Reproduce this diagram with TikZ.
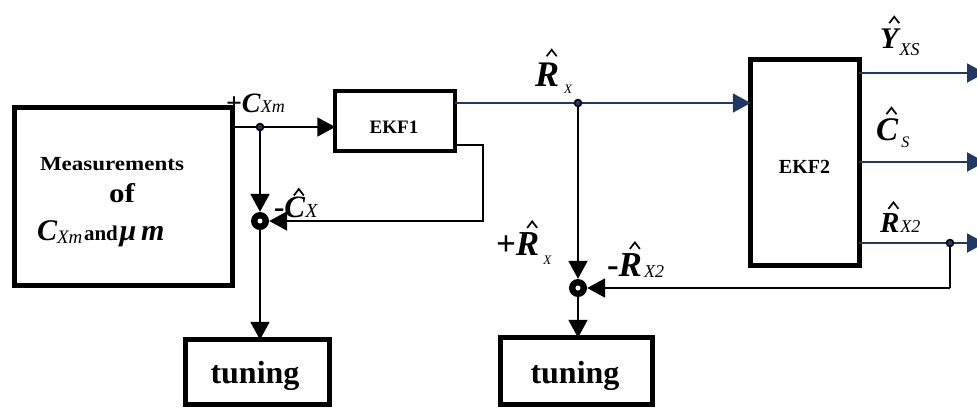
\documentclass[tikz,border=0pt]{standalone}
\usepackage{fontspec}
\setmainfont{Liberation Serif}
\usetikzlibrary{arrows.meta}
\definecolor{navy}{RGB}{31,56,100}
\newcommand\fs[1]{\fontsize{#1}{#1}\selectfont}
\newcommand\hatl[2][4pt]{\setbox0\hbox{#2}\rlap{\hbox to\wd0{\hss\kern0.26em\raisebox{\dimexpr0.66em+#1\relax}{\tikz[x=1pt,y=1pt,baseline=0pt]\draw[black,line width=1.7pt,line join=miter,line cap=butt] (-5,0) -- (0,6.5) -- (5,0);}\hss}}\box0}
\begin{document}
\begin{tikzpicture}[x=1pt,y=-1pt,
  blk/.style={draw, line width=4.5pt, inner sep=0pt, outer sep=0pt, font=\bfseries},
  conn/.style={line width=2pt, black},
  bconn/.style={line width=2pt, navy},
  tip/.style={-{Triangle[length=18pt,width=19pt]}},
  lbl/.style={inner sep=0pt, outer sep=0pt, anchor=base west},
  jdot/.style={circle, draw=black, fill=navy, line width=1.5pt, inner sep=0pt, minimum size=7pt},
  sum/.style={circle, fill=black, inner sep=0pt, minimum size=18pt}]
\useasboundingbox (0,0) rectangle (977,408);
\clip (0,0) rectangle (977,408);

% blocks
\node[blk, minimum width=218pt, minimum height=178pt] (meas) at (123.5,196.5) {};
\node[blk, line width=4pt, minimum width=119.5pt, minimum height=60pt] (ekf1) at (395,120.5) {};
\node[blk, line width=5pt, minimum width=108.5pt, minimum height=206pt] (ekf2) at (805,162.5) {};
\node[blk, line width=5pt, minimum width=144pt, minimum height=64.5pt] (tun1) at (257.5,372) {};
\node[blk, line width=5pt, minimum width=152pt, minimum height=66.5pt] (tun2) at (576.5,371) {};

% block texts
\node[lbl, anchor=base] (tm1) at (112,170) {\scalebox{1.15}[1]{\fs{20}\bfseries Measurements}};
\node[lbl, anchor=base] (tm2) at (122,202) {\scalebox{1.15}[1]{\fs{27}\bfseries of}};
\node[lbl] (tm3) at (37,240) {{\fs{30}\bfseries\itshape C}\raisebox{-3pt}{\fs{19}\itshape Xm}\,{\fs{21}\bfseries and}\,{\fs{30}\bfseries\itshape μ\,m}};
\node[lbl, anchor=base] (te1) at (394,133) {\fs{19}\bfseries EKF1};
\node[lbl, anchor=base] (te2) at (804.5,173) {\fs{20}\bfseries EKF2};
\node[lbl, anchor=base] (tt1) at (255,383) {\fs{32}\bfseries tuning};
\node[lbl, anchor=base] (tt2) at (575,383) {\fs{32}\bfseries tuning};

% junctions and summing points
\coordinate (j1) at (260,127);
\coordinate (j2) at (578,103);
\coordinate (j3) at (950,243);
\node[sum] (s1) at (260,221) {};
\node[sum] (s2) at (578,288) {};
\coordinate (c1) at (483,145);
\coordinate (c2) at (483,221);
\coordinate (c3) at (950,288);
\coordinate (o1) at (985,73);
\coordinate (o2) at (985,162);
\coordinate (o3) at (985,243);

% connectors
\draw[conn] (meas.east|-j1) -- (j1);
\draw[conn,tip] (j1) -- (ekf1.west|-j1);
\draw[conn,tip] (j1) -- (s1.north);
\draw[conn,tip] (ekf1.east|-c1) -- (c1) -- (c2) -- (s1.east);
\draw[conn,tip] (s1.south) -- (s1.south|-tun1.north);
\draw[bconn] (ekf1.east|-j2) -- (j2);
\draw[bconn,tip] (j2) -- (ekf2.west|-j2);
\draw[conn,tip] (j2) -- (s2.north);
\draw[conn,tip] (s2.south) -- (s2.south|-tun2.north);
\draw[bconn,tip] (ekf2.east|-o1) -- (o1);
\draw[bconn,tip] (ekf2.east|-o2) -- (o2);
\draw[bconn] (ekf2.east|-j3) -- (j3);
\draw[bconn,tip] (j3) -- (o3);
\draw[conn] (j3) -- (c3);
\draw[conn,tip] (c3) -- (s2.east);

\fill[white] (s1) circle (2.5pt);
\fill[white] (s2) circle (2.5pt);
\node[jdot] at (j1) {};
\node[jdot] at (j2) {};
\node[jdot] at (j3) {};

% signal labels
\node[lbl] (l1) at (226,112) {\fs{28}\textbf{+}\textbf{\textit{C}}{\fs{18}\itshape Xm}};
\node[lbl] (l2) at (274,217) {\fs{31}\textbf{-}\hatl[1pt]{\textbf{\textit{C}}}{\fs{20}\itshape X}};
\node[lbl] (l3) at (535,86) {\fs{36}\hatl[6pt]{\textbf{\textit{R}}}\kern5pt\raisebox{-7pt}{\fs{13}\itshape X}};
\node[lbl] (l4) at (496,255) {\fs{35}\textbf{+}\hatl{\textbf{\textit{R}}}\kern4pt\raisebox{-9pt}{\fs{13}\itshape X}};
\node[lbl] (l5) at (607,276) {\fs{35}\textbf{-}\hatl{\textbf{\textit{R}}}\kern2pt\raisebox{-1pt}{\fs{18}\itshape X2}};
\node[lbl] (l6) at (880,48) {\fs{30}\hatl[5pt]{\textbf{\textit{Y}}}\kern-1pt\raisebox{-7pt}{\fs{18}\itshape XS}};
\node[lbl] (l7) at (876,140) {\fs{33}\hatl{\textbf{\textit{C}}}\kern3pt\raisebox{-7pt}{\fs{16}\itshape S}};
\node[lbl] (l8) at (880,232) {\fs{29}\hatl{\textbf{\textit{R}}}\kern1pt{\fs{18}\itshape X2}};
\end{tikzpicture}
\end{document}
